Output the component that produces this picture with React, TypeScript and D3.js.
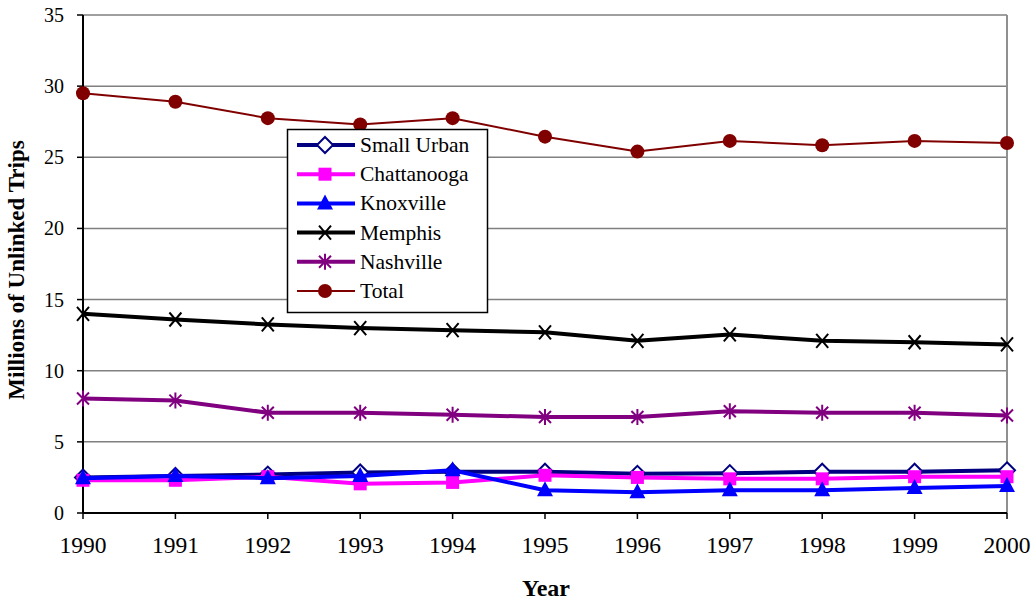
import React from 'react';
import * as d3 from 'd3';

const years = [1990, 1991, 1992, 1993, 1994, 1995, 1996, 1997, 1998, 1999, 2000];
const smallUrban = [2.5, 2.6, 2.7, 2.85, 2.9, 2.9, 2.75, 2.8, 2.9, 2.9, 3.0];
const chattanooga = [2.3, 2.3, 2.55, 2.05, 2.15, 2.65, 2.5, 2.4, 2.4, 2.55, 2.55];
const knoxville = [2.45, 2.6, 2.45, 2.6, 3.0, 1.6, 1.45, 1.6, 1.6, 1.75, 1.9];
const memphis = [14.0, 13.6, 13.25, 13.0, 12.85, 12.7, 12.1, 12.55, 12.1, 12.0, 11.85];
const nashville = [8.05, 7.9, 7.05, 7.05, 6.9, 6.75, 6.75, 7.15, 7.05, 7.05, 6.85];
const total = [29.5, 28.9, 27.75, 27.3, 27.75, 26.45, 25.4, 26.15, 25.85, 26.15, 26.0];
const yTicks = [0, 5, 10, 15, 20, 25, 30, 35];

const series = [
  {name: 'Small Urban', values: smallUrban, color: '#000080', width: 4, marker: 'diamond'},
  {name: 'Chattanooga', values: chattanooga, color: '#FF00FF', width: 4, marker: 'square'},
  {name: 'Knoxville', values: knoxville, color: '#0000FF', width: 4, marker: 'triangle'},
  {name: 'Memphis', values: memphis, color: '#000000', width: 4, marker: 'x'},
  {name: 'Nashville', values: nashville, color: '#800080', width: 4, marker: 'star'},
  {name: 'Total', values: total, color: '#800000', width: 2, marker: 'circle'},
];

const margin = {left: 83, top: 15, right: 1007, bottom: 513};
const serif = {fontFamily: "Times, Tinos, 'Liberation Serif', serif"};

function Marker({kind, color, x, y}: {kind: string; color: string; x: number; y: number}) {
  const t = `translate(${x},${y})`;
  switch (kind) {
    case 'diamond':
      return <path transform={t} d="M0,-8L8,0L0,8L-8,0Z" fill="#fff" stroke={color} strokeWidth={2} />;
    case 'square':
      return <rect transform={t} x={-6.5} y={-6.5} width={13} height={13} fill={color} />;
    case 'triangle':
      return <path transform={t} d="M0,-9L8,6L-8,6Z" fill={color} />;
    case 'x':
      return <path transform={t} d="M-6,-7L6,7M-6,7L6,-7" stroke={color} strokeWidth={2} fill="none" />;
    case 'star':
      return <path transform={t} d="M-6,-6L6,6M-6,6L6,-6M0,-8L0,8" stroke={color} strokeWidth={2} fill="none" />;
    default:
      return <circle transform={t} r={7} fill={color} />;
  }
}

export default function App() {
  const x = d3.scaleLinear().domain([1990, 2000]).range([margin.left, margin.right]);
  const y = d3.scaleLinear().domain([0, 35]).range([margin.bottom, margin.top]);
  const line = d3
    .line<number>()
    .x((d, i) => x(years[i]))
    .y(d => y(d));

  return (
    <svg width={1036} height={602} style={{position: 'absolute', left: 0, top: 0}}>
      <rect width={1036} height={602} fill="#fff" />
      {/* grid */}
      {yTicks.filter(t => t > 0).map(t => (
        <line key={t} x1={margin.left} x2={margin.right} y1={y(t)} y2={y(t)} stroke="#808080" strokeWidth={1.5} />
      ))}
      <line x1={margin.right} x2={margin.right} y1={margin.top} y2={margin.bottom} stroke="#909090" strokeWidth={2} />
      {/* axes */}
      <line x1={margin.left} x2={margin.left} y1={margin.top} y2={margin.bottom} stroke="#000" strokeWidth={2} />
      <line x1={margin.left} x2={margin.right} y1={margin.bottom} y2={margin.bottom} stroke="#000" strokeWidth={2} />
      {yTicks.map(t => (
        <g key={t}>
          <line x1={margin.left - 6} x2={margin.left} y1={y(t)} y2={y(t)} stroke="#000" strokeWidth={1.5} />
          <text x={64} y={y(t) + 7} textAnchor="end" fontSize={20} style={serif}>
            {t}
          </text>
        </g>
      ))}
      {years.map(yr => (
        <g key={yr}>
          <line x1={x(yr)} x2={x(yr)} y1={margin.bottom} y2={margin.bottom + 6} stroke="#000" strokeWidth={1.5} />
          <text x={x(yr)} y={553} textAnchor="middle" fontSize={23.5} style={serif}>
            {yr}
          </text>
        </g>
      ))}
      <text x={546} y={596} textAnchor="middle" fontSize={24} fontWeight="bold" style={serif}>
        Year
      </text>
      <text transform="translate(24,270) rotate(-90)" textAnchor="middle" fontSize={23} fontWeight="bold" style={serif}>
        Millions of Unlinked Trips
      </text>
      {/* series */}
      {series.map(s => (
        <g key={s.name}>
          <path d={line(s.values) || ''} fill="none" stroke={s.color} strokeWidth={s.width} strokeLinejoin="round" />
          {s.values.map((v, i) => (
            <Marker key={i} kind={s.marker} color={s.color} x={x(years[i])} y={y(v)} />
          ))}
        </g>
      ))}
      {/* legend */}
      <rect x={287.5} y={129.5} width={200} height={183} fill="#fff" stroke="#000" strokeWidth={1.5} />
      {series.map((s, i) => {
        const ly = 145 + i * 29.2;
        return (
          <g key={s.name}>
            <line x1={297} x2={355} y1={ly} y2={ly} stroke={s.color} strokeWidth={s.width} />
            <Marker kind={s.marker} color={s.color} x={325} y={ly} />
            <text x={360} y={ly + 7} fontSize={21.5} style={serif}>
              {s.name}
            </text>
          </g>
        );
      })}
    </svg>
  );
}
